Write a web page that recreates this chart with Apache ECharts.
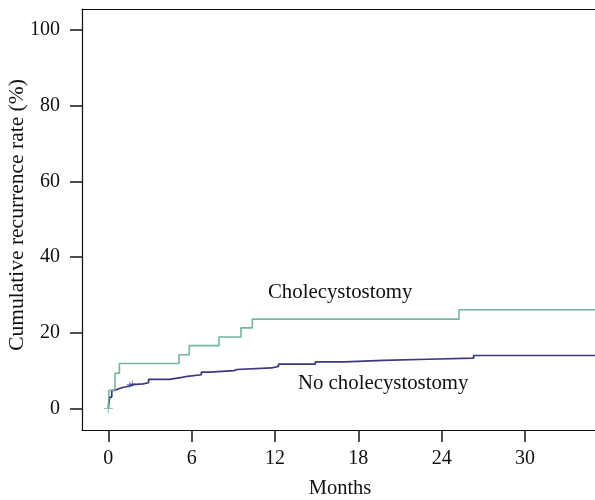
<!DOCTYPE html>
<html>
<head>
<meta charset="utf-8">
<script src="https://cdn.jsdelivr.net/npm/echarts@6/dist/echarts.min.js"></script>
<style>html,body{margin:0;padding:0;background:#fff}#c{width:595px;height:500px}</style>
</head>
<body>
<div id="c"></div>
<script>
// Data (months, cumulative recurrence %)
const cholecystostomyTimes  = [0, 0.05, 0.48, 0.8, 5.09, 5.83, 7.97, 9.55, 10.37, 25.25, 35.1];
const cholecystostomyValues = [0, 4.8, 9.3, 11.9, 14.2, 16.6, 18.9, 21.3, 23.6, 26.1, 26.1];
const noCholeTimes  = [0, 0.1, 0.25, 0.5, 0.75, 1.1, 1.5, 1.8, 2.5, 2.9, 4.4, 5.3, 5.7, 6.7, 7.3, 9.05, 9.25, 11.75, 12.25, 14.9, 17.0, 19.8, 23.0, 26.3, 35.1];
const noCholeValues = [0, 3.0, 4.8, 5.2, 5.6, 5.9, 6.3, 6.5, 6.8, 7.7, 8.2, 8.5, 8.9, 9.6, 10.0, 10.3, 10.7, 11.1, 11.7, 12.3, 12.7, 13.0, 13.3, 14.0, 14.0];
const censorCholeTimes = [0];
const censorCholeValues = [0];
const censorNoCholeTimes = [1.55, 1.75];
const censorNoCholeValues = [6.3, 6.5];
const xTicks = [0, 6, 12, 18, 24, 30];
const yTicks = [0, 20, 40, 60, 80, 100];
const labelChole = 'Cholecystostomy';
const labelNoChole = 'No cholecystostomy';
const xName = 'Months';
const yName = 'Cumulative recurrence rate (%)';

const green = '#72b898';
const navy = '#3a387e';
const font = 'Liberation Serif';
const zip = (a, b) => a.map((v, i) => [v, b[i]]);
const plus = 'path://M-0.12,-1H0.12V-0.12H1V0.12H0.12V1H-0.12V0.12H-1V-0.12H-0.12Z';
const boxLine = {show: true, onZero: false, lineStyle: {color: '#111', width: 1.2}};

const chart = echarts.init(document.getElementById('c'), null, {renderer: 'canvas'});
chart.setOption({
  animation: false,
  backgroundColor: '#fff',
  textStyle: {fontFamily: font},
  grid: {left: 82, top: 9, right: 0, bottom: 70, show: false, containLabel: false},
  xAxis: [{
    type: 'value', position: 'bottom', min: -1.893, max: 35.04,
    axisLine: boxLine,
    splitLine: {show: false},
    axisTick: {show: true, inside: false, length: 12, customValues: xTicks, lineStyle: {color: '#222', width: 1.6}},
    axisLabel: {customValues: xTicks, margin: 19, fontFamily: font, fontSize: 20, color: '#111'}
  }, {
    type: 'value', position: 'top', min: -1.893, max: 35.04,
    axisLine: boxLine, axisTick: {show: false}, axisLabel: {show: false}, splitLine: {show: false}
  }],
  yAxis: {
    type: 'value', position: 'left', min: -5.7, max: 105.6,
    axisLine: boxLine,
    splitLine: {show: false},
    axisTick: {show: true, inside: false, length: 12, customValues: yTicks, lineStyle: {color: '#222', width: 1.6}},
    axisLabel: {customValues: yTicks, margin: 22, fontFamily: font, fontSize: 20, color: '#111'}
  },
  series: [
    {type: 'line', step: 'end', data: zip(cholecystostomyTimes, cholecystostomyValues), showSymbol: false, lineStyle: {color: green, width: 1.6}, z: 3},
    {type: 'line', step: 'end', data: zip(noCholeTimes, noCholeValues), showSymbol: false, lineStyle: {color: navy, width: 1.7}, z: 2},
    {type: 'scatter', data: zip(censorCholeTimes, censorCholeValues), symbol: plus, symbolSize: 9, itemStyle: {color: green}, z: 4},
    {type: 'scatter', data: zip(censorNoCholeTimes, censorNoCholeValues), symbol: plus, symbolSize: 6, itemStyle: {color: navy}, z: 4}
  ],
  graphic: [
    {type: 'text', x: 268, y: 293, style: {text: labelChole, font: '20.8px "' + font + '"', fill: '#111', align: 'left', verticalAlign: 'middle'}},
    {type: 'text', x: 298, y: 384, style: {text: labelNoChole, font: '20.8px "' + font + '"', fill: '#111', align: 'left', verticalAlign: 'middle'}},
    {type: 'text', x: 340, y: 489, style: {text: xName, font: '20.5px "' + font + '"', fill: '#111', align: 'center', verticalAlign: 'middle'}},
    {type: 'text', x: 17, y: 215, rotation: Math.PI / 2, style: {text: yName, font: '21.5px "' + font + '"', fill: '#111', align: 'center', verticalAlign: 'middle'}}
  ]
});
</script>
</body>
</html>
